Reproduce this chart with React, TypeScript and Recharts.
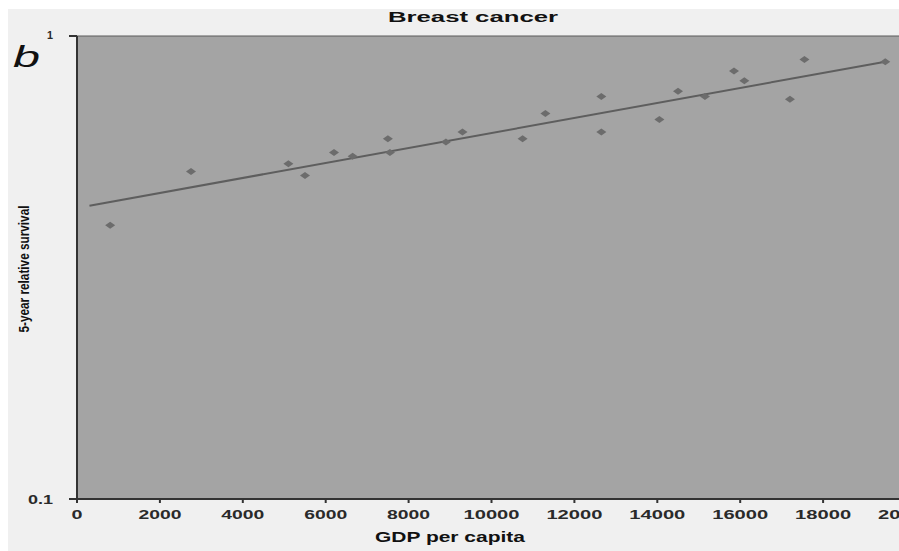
import { CartesianGrid, ReferenceLine, Scatter, ScatterChart, XAxis, YAxis } from 'recharts';

// GDP per capita of each country and its 5-year relative survival
const gdpPerCapita = [800, 2750, 5100, 5500, 6200, 6650, 7500, 7550, 8900, 9300, 10750, 11300, 12650, 12650, 14050, 14500, 15150, 15850, 16100, 17200, 17550, 19500];
const survival = [0.39, 0.51, 0.53, 0.5, 0.56, 0.55, 0.6, 0.56, 0.59, 0.62, 0.6, 0.68, 0.74, 0.62, 0.66, 0.76, 0.74, 0.84, 0.8, 0.73, 0.89, 0.88];

// exponential trend line, read at both ends
const trendGdp = [300, 19500];
const trendSurvival = [0.43, 0.88];

const xTicks = [0, 2000, 4000, 6000, 8000, 10000, 12000, 14000, 16000, 18000, 20000];
const yTicks = [0.1, 1];

const points = gdpPerCapita.map((g, i) => ({ gdp: g, survival: survival[i] }));
const trend = trendGdp.map((g, i) => ({ gdp: g, survival: trendSurvival[i] }));

const Diamond = (props: any) => {
    const { cx, cy } = props;
    if (cx == null || cy == null) return <g />;
    return <polygon points={`${cx - 5},${cy} ${cx},${cy - 3.5} ${cx + 5},${cy} ${cx},${cy + 3.5}`} fill="#6c6c6c" />;
};

const XTick = (props: any) => {
    const { x, y, payload } = props;
    const label = String(payload.value);
    return (
        <text x={x} y={y + 14} textAnchor="middle" fontSize={12} fontWeight="bold" fill="#2a2a2a" fontFamily="Arial, 'Liberation Sans', sans-serif"
            textLength={label.length === 1 ? 11 : label.length === 4 ? 43 : 56} lengthAdjust="spacingAndGlyphs">
            {label}
        </text>
    );
};

const YTick = (props: any) => {
    const { x, y, payload } = props;
    const label = String(payload.value);
    const small = label === '1';
    return (
        <text x={x - 14} y={y + (small ? 3 : 5)} textAnchor="end" fontSize={small ? 11 : 13} fontWeight="bold" fill="#2a2a2a"
            fontFamily="Arial, 'Liberation Sans', sans-serif" textLength={small ? 6 : 25} lengthAdjust="spacingAndGlyphs">
            {label}
        </text>
    );
};

export default function App() {
    return (
        <div style={{ position: 'fixed', left: 8, top: 9, width: 891, height: 542, overflow: 'hidden', background: '#f0f0f0' }}>
            <ScatterChart width={930} height={542} margin={{ top: 27, right: 32, left: 0, bottom: 0 }}>
                <CartesianGrid horizontal={false} vertical={false} fill="#a4a4a4" />
                <XAxis type="number" dataKey="gdp" domain={[0, 20000]} ticks={xTicks} interval={0} allowDataOverflow
                    height={52} tickSize={4} stroke="#333" strokeWidth={2} tick={<XTick />} />
                <YAxis type="number" dataKey="survival" scale="log" domain={[0.1, 1]} ticks={yTicks} allowDataOverflow
                    width={69} tickSize={8} stroke="#333" strokeWidth={2} tick={<YTick />} />
                <ReferenceLine y={1} stroke="#5a5a5a" strokeWidth={1} />
                <Scatter data={trend} line={{ stroke: '#5e5e5e', strokeWidth: 2 }} shape={() => <g />} isAnimationActive={false} />
                <Scatter data={points} shape={<Diamond />} isAnimationActive={false} />
            </ScatterChart>
            <svg width={891} height={542} style={{ position: 'absolute', left: 0, top: 0, pointerEvents: 'none' }}>
                <text x={465} y={13} textAnchor="middle" fontSize={14} fontWeight="bold" fill="#111" fontFamily="Arial, 'Liberation Sans', sans-serif"
                    textLength={170} lengthAdjust="spacingAndGlyphs">Breast cancer</text>
                <text x={5} y={58} fontSize={29} fontStyle="italic" fill="#111" fontFamily="Arial, 'Liberation Sans', sans-serif"
                    textLength={27} lengthAdjust="spacingAndGlyphs">b</text>
                <text x={0} y={0} transform="translate(21, 260) rotate(-90)" textAnchor="middle" fontSize={14} fontWeight="bold" fill="#111"
                    fontFamily="'Liberation Sans Narrow', Arial, sans-serif" textLength={127} lengthAdjust="spacingAndGlyphs">5-year relative survival</text>
                <text x={442} y={533} textAnchor="middle" fontSize={14} fontWeight="bold" fill="#111" fontFamily="Arial, 'Liberation Sans', sans-serif"
                    textLength={150} lengthAdjust="spacingAndGlyphs">GDP per capita</text>
            </svg>
        </div>
    );
}
